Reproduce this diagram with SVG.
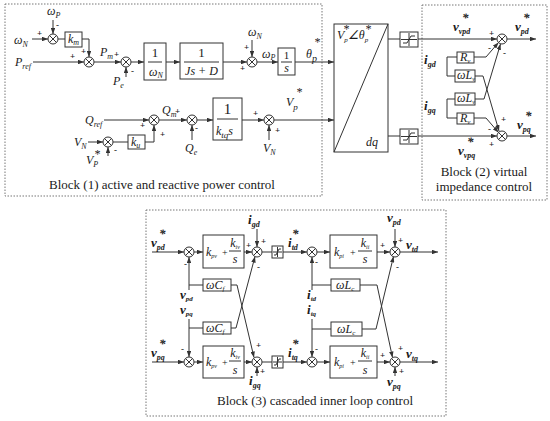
<svg xmlns="http://www.w3.org/2000/svg" xmlns:xlink="http://www.w3.org/1999/xlink" width="550" height="421" viewBox="0 0 550 421">
<style>
text{font-family:"Liberation Serif","Times New Roman",serif;fill:#1a1a1a}
.i{font-style:italic;font-size:12px}
.b{font-style:italic;font-weight:bold;font-size:13px}
.s{font-size:8px}
.cap{font-size:13px}
.sg{font-family:"Liberation Sans",Arial,sans-serif;font-size:9px;font-weight:bold}
.ln{stroke:#333;stroke-width:1;fill:none}
.ar{stroke:#333;stroke-width:1;fill:none;marker-end:url(#ah)}
.bx{fill:#fff;stroke:#333;stroke-width:1}
.frame{fill:none;stroke:#777;stroke-width:1;stroke-dasharray:1.5 1.5}
</style>
<defs>
<marker id="ah" viewBox="0 0 8 6" refX="8" refY="3" markerWidth="6" markerHeight="4.5" orient="auto" markerUnits="userSpaceOnUse"><path d="M0,0 L8,3 L0,6 z" fill="#333"/></marker>
<g id="sum"><circle r="5" fill="#fff" stroke="#333" stroke-width="1"/><path d="M-3.5,-3.5 L3.5,3.5 M-3.5,3.5 L3.5,-3.5" stroke="#333" stroke-width="1"/></g>
<g id="sat"><rect x="0" y="0" width="18" height="15" class="bx"/><path d="M9,1 V14 M1,7.5 H17" class="ln" stroke-width="0.7"/><path d="M3,11 H7 L11,4 H15" class="ln"/></g>
<g id="sat2"><rect x="0" y="0" width="11" height="12" class="bx"/><path d="M5.5,1 V11 M1,6 H10" class="ln" stroke-width="0.7"/><path d="M2,9 H4 L7,3 H9" class="ln"/></g>
</defs>

<!-- frames -->
<g id="frames">
<rect class="frame" x="5" y="4" width="317" height="192"/>
<rect class="frame" x="422" y="5" width="125" height="195"/>
<rect class="frame" x="146" y="210" width="300" height="206"/>
</g>

<!-- connectors -->
<g id="connectors">
<path class="ar" d="M32,39 H48"/>
<path class="ar" d="M53,20 V34"/>
<path class="ln" d="M58,39 H65"/>
<path class="ar" d="M82,39 H89 V57"/>
<path class="ar" d="M33,62 H84"/>
<path class="ar" d="M94,62 H121"/>
<path class="ar" d="M126,77 V67"/>
<path class="ar" d="M131,62 H144"/>
<path class="ar" d="M166,62 H180"/>
<path class="ar" d="M223,62 H247"/>
<path class="ar" d="M252,40 V57"/>
<path class="ar" d="M257,62 H278"/>
<path class="ar" d="M295,62 H334"/>
<path class="ar" d="M104,120 H149"/>
<path class="ar" d="M88,142 H103"/>
<path class="ar" d="M108,156 V147"/>
<path class="ln" d="M113,142 H128"/>
<path class="ar" d="M145,142 H154 V125"/>
<path class="ar" d="M159,120 H187"/>
<path class="ar" d="M192,140 V125"/>
<path class="ar" d="M197,120 H213"/>
<path class="ar" d="M242,120 H264"/>
<path class="ar" d="M269,140 V125"/>
<path class="ar" d="M274,120 H334"/>
<path class="ln" d="M388,39 H400"/>
<path class="ln" d="M388,136 H400"/>
<path class="ar" d="M418,39 H497"/>
<path class="ar" d="M507,39 H536"/>
<path class="ln" d="M447,57 H457 M447,57 V76 H455"/>
<path class="ar" d="M474,57 H486 L498.5,42.5"/>
<path class="ar" d="M475,76 H483 L499,131"/>
<path class="ln" d="M447,99 H455 M447,99 V118 H457"/>
<path class="ar" d="M475,99 H484 L500.5,44"/>
<path class="ar" d="M474,118 H486 L498.5,132.5"/>
<path class="ar" d="M418,136 H497"/>
<path class="ar" d="M507,136 H536"/>
<path class="ar" d="M152,252 H184"/>
<path class="ar" d="M194,252 H203"/>
<path class="ar" d="M244,252 H252"/>
<path class="ar" d="M257,229 V247"/>
<path class="ln" d="M262,252 H272"/>
<path class="ar" d="M283,252 H307"/>
<path class="ar" d="M317,252 H330"/>
<path class="ar" d="M377,252 H390"/>
<path class="ar" d="M395,229 V247"/>
<path class="ar" d="M400,252 H438"/>
<path class="ar" d="M189,290 V257"/>
<path class="ln" d="M189,285 H203"/>
<path class="ar" d="M231,285 H237 L254,357.5"/>
<path class="ar" d="M189,319 V357"/>
<path class="ln" d="M189,328 H203"/>
<path class="ar" d="M231,328 H236 L255,256.5"/>
<path class="ar" d="M312,290 V257"/>
<path class="ln" d="M312,285 H331"/>
<path class="ar" d="M360,285 H377 L392.5,357.5"/>
<path class="ar" d="M312,319 V357"/>
<path class="ln" d="M312,329 H331"/>
<path class="ar" d="M362,329 H376 L393.5,256.5"/>
<path class="ar" d="M152,362 H184"/>
<path class="ar" d="M194,362 H203"/>
<path class="ar" d="M244,362 H252"/>
<path class="ar" d="M257,376 V367"/>
<path class="ln" d="M262,362 H272"/>
<path class="ar" d="M283,362 H307"/>
<path class="ar" d="M317,362 H330"/>
<path class="ar" d="M377,362 H390"/>
<path class="ar" d="M395,376 V367"/>
<path class="ar" d="M400,362 H438"/>
</g>

<!-- Block 1 nodes -->
<g id="b1-labels">
<text class="i" x="14" y="44">ω<tspan class="s" dy="3">N</tspan></text>
<text class="i" x="47" y="15">ω<tspan class="s" dy="3">P</tspan></text>
<text class="i" x="15" y="66">P<tspan class="s" dy="3">ref</tspan></text>
<text class="i" x="100" y="56">P<tspan class="s" dy="3">m</tspan></text>
<text class="i" x="113" y="85">P<tspan class="s" dy="3">e</tspan></text>
<text class="i" x="248" y="36">ω<tspan class="s" dy="3">N</tspan></text>
<text class="i" x="262" y="58" font-size="10">ω<tspan class="s" dy="2">P</tspan></text>
<text class="i" x="306" y="58" font-size="16">θ<tspan font-size="10" dy="4">p</tspan></text>
<text class="i" x="314" y="46" font-size="10">*</text>
<text class="i" x="85" y="124">Q<tspan class="s" dy="3">ref</tspan></text>
<text class="i" x="74" y="146">V<tspan class="s" dy="3">N</tspan></text>
<text class="i" x="86" y="164">V<tspan class="s" dy="3">P</tspan></text>
<text class="i" x="94" y="158" font-size="9">*</text>
<text class="i" x="162" y="114">Q<tspan class="s" dy="3">m</tspan></text>
<text class="i" x="185" y="152">Q<tspan class="s" dy="3">e</tspan></text>
<text class="i" x="263" y="152">V<tspan class="s" dy="3">N</tspan></text>
<text class="i" x="286" y="106" font-size="14">V<tspan font-size="9" dy="4">p</tspan></text>
<text class="i" x="296" y="96" font-size="10">*</text>
</g>
<g id="b1-signs" class="sg">
<text x="37" y="36">+</text><text x="56" y="28">-</text>
<text x="81" y="54">+</text><text x="70" y="59">+</text>
<text x="114" y="57">+</text><text x="131" y="74">-</text>
<text x="244" y="50">+</text><text x="240" y="71">+</text>
<text x="140" y="128">+</text><text x="114" y="153">-</text>
<text x="160" y="137">+</text><text x="175" y="114">+</text>
<text x="195" y="131">-</text>
<text x="253" y="116">+</text><text x="275" y="133">+</text>
</g>
<g id="sum1"><use xlink:href="#sum" x="53" y="39"/></g>
<g id="sum2"><use xlink:href="#sum" x="89" y="62"/></g>
<g id="sum3"><use xlink:href="#sum" x="126" y="62"/></g>
<g id="sum4"><use xlink:href="#sum" x="252" y="62"/></g>
<g id="sum5"><use xlink:href="#sum" x="154" y="120"/></g>
<g id="sum6"><use xlink:href="#sum" x="108" y="142"/></g>
<g id="sum7"><use xlink:href="#sum" x="192" y="120"/></g>
<g id="sum8"><use xlink:href="#sum" x="269" y="120"/></g>
<g id="km"><rect class="bx" x="65" y="32" width="17" height="15"/><text class="i" x="68" y="43">k<tspan class="s" dy="2">m</tspan></text></g>
<g id="inv-omegaN"><rect class="bx" x="144" y="43" width="22" height="37"/><text x="155" y="57" font-size="13" text-anchor="middle">1</text><path class="ln" d="M148,62 H162"/><text class="i" x="149" y="76">ω<tspan class="s" dy="2">N</tspan></text></g>
<g id="inertia"><rect class="bx" x="180" y="43" width="43" height="36"/><text x="201.5" y="57" font-size="13" text-anchor="middle">1</text><path class="ln" d="M184,62 H219"/><text class="i" x="201.5" y="75" font-size="12.5" text-anchor="middle">Js + D</text></g>
<g id="integ1"><rect class="bx" x="278" y="48" width="17" height="27"/><text x="286.5" y="59" font-size="11" text-anchor="middle">1</text><path class="ln" d="M281,62 H292"/><text class="i" x="286.5" y="72" font-size="11" text-anchor="middle">s</text></g>
<g id="ku"><rect class="bx" x="128" y="135" width="17" height="14"/><text class="i" x="131" y="146">k<tspan class="s" dy="2">u</tspan></text></g>
<g id="integ2"><rect class="bx" x="213" y="98" width="29" height="42"/><text x="227.5" y="114" font-size="15" text-anchor="middle">1</text><path class="ln" d="M217,119 H238"/><text class="i" x="216" y="135" font-size="15">k<tspan font-size="9" dy="3">tq</tspan><tspan dy="-3">s</tspan></text></g>
<g id="b1-caption"><text class="cap" x="162" y="189" text-anchor="middle">Block (1) active and reactive power control</text></g>

<!-- transform box -->
<g id="dq-transform"><rect class="bx" x="334" y="24" width="54" height="128"/><path class="ln" d="M334,152 L388,24"/><text class="i" x="337" y="39" font-size="11">V<tspan font-size="7" dy="3">p</tspan><tspan dy="-3">∠θ</tspan><tspan font-size="7" dy="3">p</tspan></text><text class="i" x="343" y="33" font-size="7">*</text><text class="i" x="365" y="33" font-size="7">*</text><text class="i" x="366" y="146" font-size="11">dq</text></g>
<g id="sat-d"><use xlink:href="#sat" x="400" y="32"/></g>
<g id="sat-q"><use xlink:href="#sat" x="400" y="129"/></g>

<!-- Block 2 -->
<g id="b2-labels">
<text class="b" x="453" y="31">v<tspan class="s" dy="3">vpd</tspan></text>
<text class="b" x="462" y="22" font-size="10">*</text>
<text class="b" x="515" y="31">v<tspan class="s" dy="3">pd</tspan></text>
<text class="b" x="523" y="22" font-size="10">*</text>
<text class="b" x="424" y="64">i<tspan class="s" dy="3">gd</tspan></text>
<text class="b" x="424" y="110">i<tspan class="s" dy="3">gq</tspan></text>
<text class="b" x="458" y="155">v<tspan class="s" dy="3">vpq</tspan></text>
<text class="b" x="467" y="146" font-size="10">*</text>
<text class="b" x="517" y="129">v<tspan class="s" dy="3">pq</tspan></text>
<text class="b" x="525" y="120" font-size="10">*</text>
</g>
<g id="b2-signs" class="sg">
<text x="489" y="36">+</text><text x="488" y="51">-</text><text x="503" y="56">-</text>
<text x="501" y="122">+</text><text x="488" y="132">-</text><text x="489" y="147">+</text>
</g>
<g id="sum9"><use xlink:href="#sum" x="502" y="39"/></g>
<g id="sum10"><use xlink:href="#sum" x="502" y="136"/></g>
<g id="Rv-d"><rect class="bx" x="457" y="52" width="17" height="11"/><text class="i" x="460" y="61" font-size="10">R<tspan font-size="7" dy="2">v</tspan></text></g>
<g id="wLv-d"><rect class="bx" x="455" y="70" width="20" height="12"/><text class="i" x="457" y="79" font-size="9">ωL<tspan font-size="6" dy="2">v</tspan></text></g>
<g id="wLv-q"><rect class="bx" x="455" y="93" width="20" height="12"/><text class="i" x="457" y="102" font-size="9">ωL<tspan font-size="6" dy="2">v</tspan></text></g>
<g id="Rv-q"><rect class="bx" x="457" y="113" width="17" height="11"/><text class="i" x="460" y="122" font-size="10">R<tspan font-size="7" dy="2">v</tspan></text></g>
<g id="b2-caption"><text class="cap" x="484" y="176" text-anchor="middle">Block (2) virtual</text><text class="cap" x="484" y="191" text-anchor="middle">impedance control</text></g>

<!-- Block 3 -->
<g id="b3-labels">
<text class="b" x="151" y="247">v<tspan class="s" dy="3">pd</tspan></text>
<text class="b" x="159" y="238" font-size="10">*</text>
<text class="b" x="248" y="224">i<tspan class="s" dy="3">gd</tspan></text>
<text class="b" x="288" y="247">i<tspan class="s" dy="3">td</tspan></text>
<text class="b" x="292" y="238" font-size="10">*</text>
<text class="b" x="387" y="222">v<tspan class="s" dy="3">pd</tspan></text>
<text class="b" x="406" y="249">v<tspan class="s" dy="3">td</tspan></text>
<text class="b" x="180" y="299" font-size="12">v<tspan font-size="7" dy="2">pd</tspan></text>
<text class="b" x="180" y="314" font-size="12">v<tspan font-size="7" dy="2">pq</tspan></text>
<text class="b" x="307" y="299" font-size="12">i<tspan font-size="7" dy="2">td</tspan></text>
<text class="b" x="307" y="314" font-size="12">i<tspan font-size="7" dy="2">tq</tspan></text>
<text class="b" x="151" y="357">v<tspan class="s" dy="3">pq</tspan></text>
<text class="b" x="159" y="348" font-size="10">*</text>
<text class="b" x="288" y="357">i<tspan class="s" dy="3">tq</tspan></text>
<text class="b" x="292" y="348" font-size="10">*</text>
<text class="b" x="406" y="358">v<tspan class="s" dy="3">tq</tspan></text>
<text class="b" x="249" y="385">i<tspan class="s" dy="3">gq</tspan></text>
<text class="b" x="387" y="386">v<tspan class="s" dy="3">pq</tspan></text>
</g>
<g id="b3-signs" class="sg">
<text x="184" y="267">-</text><text x="246" y="248">+</text><text x="261" y="244">+</text><text x="257" y="270">-</text>
<text x="315" y="265">-</text><text x="380" y="248">+</text><text x="398" y="243">+</text><text x="396" y="270">-</text>
<text x="181" y="352">-</text><text x="256" y="348">+</text><text x="260" y="374">+</text>
<text x="315" y="352">-</text><text x="380" y="358">+</text><text x="398" y="351">+</text><text x="399" y="374">+</text>
</g>
<g id="sum11"><use xlink:href="#sum" x="189" y="252"/></g>
<g id="sum12"><use xlink:href="#sum" x="257" y="252"/></g>
<g id="sum13"><use xlink:href="#sum" x="312" y="252"/></g>
<g id="sum14"><use xlink:href="#sum" x="395" y="252"/></g>
<g id="sum15"><use xlink:href="#sum" x="189" y="362"/></g>
<g id="sum16"><use xlink:href="#sum" x="257" y="362"/></g>
<g id="sum17"><use xlink:href="#sum" x="312" y="362"/></g>
<g id="sum18"><use xlink:href="#sum" x="395" y="362"/></g>
<g id="PIv-d"><rect class="bx" x="203" y="235" width="41" height="33"/><text class="i" x="206" y="256" font-size="10">k<tspan font-size="6" dy="2">pv</tspan></text><text x="222" y="256" font-size="10">+</text><text class="i" x="235" y="247" font-size="10" text-anchor="middle">k<tspan font-size="6" dy="2">iv</tspan></text><path class="ln" d="M229,251 H241"/><text class="i" x="235" y="263" font-size="10" text-anchor="middle">s</text></g>
<g id="PIv-q"><rect class="bx" x="203" y="346" width="41" height="32"/><text class="i" x="206" y="366" font-size="10">k<tspan font-size="6" dy="2">pv</tspan></text><text x="222" y="366" font-size="10">+</text><text class="i" x="235" y="357" font-size="10" text-anchor="middle">k<tspan font-size="6" dy="2">iv</tspan></text><path class="ln" d="M229,361 H241"/><text class="i" x="235" y="374" font-size="10" text-anchor="middle">s</text></g>
<g id="PIi-d"><rect class="bx" x="330" y="235" width="47" height="33"/><text class="i" x="334" y="256" font-size="10">k<tspan font-size="6" dy="2">pi</tspan></text><text x="350" y="256" font-size="10">+</text><text class="i" x="365" y="247" font-size="10" text-anchor="middle">k<tspan font-size="6" dy="2">ii</tspan></text><path class="ln" d="M358,251 H372"/><text class="i" x="365" y="263" font-size="10" text-anchor="middle">s</text></g>
<g id="PIi-q"><rect class="bx" x="330" y="346" width="47" height="32"/><text class="i" x="334" y="366" font-size="10">k<tspan font-size="6" dy="2">pi</tspan></text><text x="350" y="366" font-size="10">+</text><text class="i" x="365" y="357" font-size="10" text-anchor="middle">k<tspan font-size="6" dy="2">ii</tspan></text><path class="ln" d="M358,361 H372"/><text class="i" x="365" y="374" font-size="10" text-anchor="middle">s</text></g>
<g id="wCf-d"><rect class="bx" x="203" y="279" width="28" height="12"/><text class="i" x="206" y="289" font-size="10">ωC<tspan font-size="7" dy="2">f</tspan></text></g>
<g id="wCf-q"><rect class="bx" x="203" y="322" width="28" height="12"/><text class="i" x="206" y="332" font-size="10">ωC<tspan font-size="7" dy="2">f</tspan></text></g>
<g id="wLc-d"><rect class="bx" x="331" y="279" width="29" height="12"/><text class="i" x="336" y="289" font-size="10">ωL<tspan font-size="7" dy="2">c</tspan></text></g>
<g id="wLc-q"><rect class="bx" x="331" y="322" width="31" height="14"/><text class="i" x="337" y="333" font-size="11">ωL<tspan font-size="7" dy="2">c</tspan></text></g>
<g id="sat-td"><use xlink:href="#sat2" x="272" y="246"/></g>
<g id="sat-tq"><use xlink:href="#sat2" x="272" y="356"/></g>
<g id="b3-caption"><text class="cap" x="315" y="405" text-anchor="middle">Block (3) cascaded inner loop control</text></g>
</svg>
